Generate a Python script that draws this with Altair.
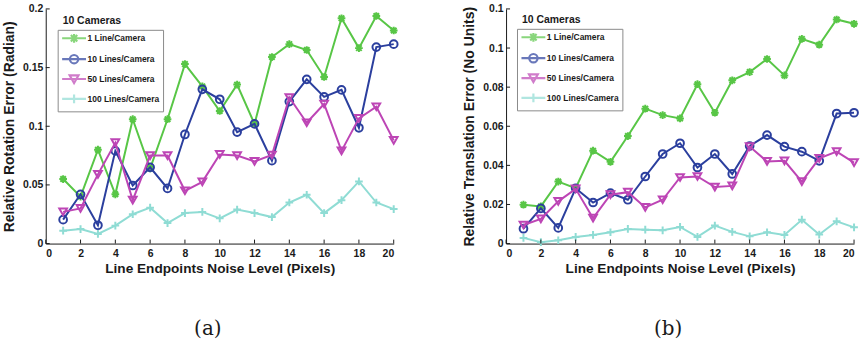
import altair as alt
import pandas as pd

noise = list(range(1, 21))
series = ["1 Line/Camera", "10 Lines/Camera", "50 Lines/Camera", "100 Lines/Camera"]
colors = ["#58c646", "#2b3f9e", "#bd45b5", "#8fdcd4"]

rot_1 = [0.055, 0.040, 0.080, 0.042, 0.106, 0.064, 0.106, 0.153, 0.134, 0.113,
         0.1355, 0.102, 0.159, 0.170, 0.165, 0.142, 0.192, 0.1666, 0.194, 0.1816]
rot_10 = [0.0204, 0.042, 0.0156, 0.079, 0.0495, 0.065, 0.047, 0.093, 0.1315, 0.123,
          0.095, 0.102, 0.0707, 0.121, 0.140, 0.125, 0.131, 0.0987, 0.1675, 0.170]
rot_50 = [0.027, 0.030, 0.059, 0.086, 0.037, 0.075, 0.075, 0.045, 0.0526, 0.076,
          0.075, 0.070, 0.0755, 0.1245, 0.103, 0.119, 0.079, 0.1067, 0.1166, 0.088]
rot_100 = [0.011, 0.0124, 0.0082, 0.0153, 0.025, 0.0306, 0.0175, 0.026, 0.027, 0.0215,
           0.029, 0.026, 0.0226, 0.035, 0.0416, 0.026, 0.037, 0.053, 0.035, 0.0294]

tra_1 = [0.0199, 0.019, 0.0317, 0.0283, 0.0475, 0.0418, 0.055, 0.069, 0.0657, 0.064,
         0.0815, 0.0669, 0.0835, 0.0877, 0.0944, 0.086, 0.1047, 0.1017, 0.1146, 0.1124]
tra_10 = [0.0076, 0.018, 0.008, 0.0283, 0.021, 0.0258, 0.0224, 0.0343, 0.0458, 0.0513,
          0.0389, 0.0458, 0.0356, 0.0499, 0.0555, 0.0496, 0.047, 0.0423, 0.0665, 0.0669]
tra_50 = [0.0095, 0.0126, 0.0216, 0.028, 0.013, 0.025, 0.0263, 0.0185, 0.0224, 0.0338,
          0.0343, 0.0289, 0.0295, 0.0496, 0.042, 0.0423, 0.0317, 0.0436, 0.047, 0.0414]
tra_100 = [0.0029, 0.0007, 0.0017, 0.0034, 0.0044, 0.0058, 0.0075, 0.0071, 0.0068, 0.0085,
           0.0034, 0.0092, 0.006, 0.0037, 0.0058, 0.0044, 0.0122, 0.0046, 0.0114, 0.0083]

x_ticks = list(range(0, 21, 2))
rot_ticks = [0, 0.05, 0.1, 0.15, 0.2]
tra_ticks = [0, 0.02, 0.04, 0.06, 0.08, 0.1, 0.12]

ASTER = "M-1,0H1M0,-1V1M-0.72,-0.72L0.72,0.72M-0.72,0.72L0.72,-0.72"
PLUS = "M-1,0H1M0,-1V1"
point_shapes = [ASTER, "circle", "triangle-down", PLUS]
legend_shapes = [
    "M-3,0H3M-1.1,0H1.1M0,-1.1V1.1M-0.8,-0.8L0.8,0.8M-0.8,0.8L0.8,-0.8",
    "M-3,0H3M-1.05,0A1.05,1.05 0 1 1 1.05,0A1.05,1.05 0 1 1 -1.05,0",
    "M-3,0H3M-1.1,-0.9L1.1,-0.9L0,1Z",
    "M-3,0H3M-1.1,0H1.1M0,-1.1V1.1",
]

W, H = 350, 236
FONT = "Liberation Sans"
INK = "#1a1a1a"


def long_df(vals):
    rows = []
    for s, v in zip(series, vals):
        for n, e in zip(noise, v):
            rows.append({"noise": n, "err": e, "series": s})
    return pd.DataFrame(rows)


def panel(vals, ymax, yticks, ytitle, caption, legx, legy):
    df = long_df(vals)
    xenc = alt.X("noise:Q", scale=alt.Scale(domain=[0, 20], nice=False, zero=False),
                 axis=alt.Axis(values=x_ticks, title="Line Endpoints Noise Level (Pixels)",
                               grid=False, ticks=False, tickSize=0, labelPadding=5,
                               titlePadding=3, labelFontSize=10.5, titleFontSize=13.7))
    yenc = alt.Y("err:Q", scale=alt.Scale(domain=[0, ymax], nice=False),
                 axis=alt.Axis(values=yticks, title=ytitle, grid=False, ticks=False,
                               tickSize=0, format="~g", labelPadding=3, titlePadding=6,
                               labelFontSize=10.5, titleFontSize=14))
    layers = []
    for s, c, shp in zip(series, colors, point_shapes):
        sub = alt.Chart(df).transform_filter(alt.datum.series == s)
        layers.append(sub.mark_line(color=c, strokeWidth=2).encode(x=xenc, y=yenc))
        layers.append(sub.mark_point(shape=shp, color=c, filled=False, size=60,
                                     strokeWidth=2, opacity=1).encode(x=xenc, y=yenc))
    leg = alt.Legend(orient="none", legendX=legx, legendY=legy, title=None,
                     labelFont=FONT, labelFontSize=8.5, labelFontWeight="bold",
                     labelColor=INK, strokeColor="#8a8a8a", fillColor="white",
                     padding=3, symbolSize=64, symbolStrokeWidth=2.2, rowPadding=2,
                     symbolOffset=8, labelOffset=8)
    layers.append(
        alt.Chart(df).transform_filter("false")
        .mark_point(filled=False, strokeWidth=2, size=64)
        .encode(color=alt.Color("series:N", scale=alt.Scale(domain=series, range=colors), legend=leg),
                shape=alt.Shape("series:N", scale=alt.Scale(domain=series, range=legend_shapes), legend=leg))
    )
    xt = pd.DataFrame({"noise": x_ticks})
    layers.append(alt.Chart(xt).mark_rule(color=INK, strokeWidth=1)
                  .encode(x=xenc, y=alt.value(H), y2=alt.value(H - 4)))
    yt = pd.DataFrame({"err": yticks})
    layers.append(alt.Chart(yt).mark_rule(color=INK, strokeWidth=1)
                  .encode(y=yenc, x=alt.value(0), x2=alt.value(4)))
    layers.append(alt.Chart(pd.DataFrame({"t": ["10 Cameras"]}))
                  .mark_text(align="left", baseline="middle", font=FONT, fontSize=10.5,
                             fontWeight="bold", color=INK)
                  .encode(text="t:N", x=alt.value(legx + 5), y=alt.value(legy - 9)))
    return alt.layer(*layers).properties(
        width=W, height=H,
        title=alt.TitleParams(caption, orient="bottom", font="DejaVu Serif", fontSize=20,
                              fontWeight="normal", color=INK, offset=60, anchor="middle",
                              baseline="alphabetic", dx=-12),
    )


left = panel([rot_1, rot_10, rot_50, rot_100], 0.2, rot_ticks,
             "Relative Rotation Error (Radian)", "(a)", 12, 21)
right = panel([tra_1, tra_10, tra_50, tra_100], 0.12, tra_ticks,
              "Relative Translation Error (No Units)", "(b)", 11, 20)

chart = (
    alt.hconcat(left, right, spacing=61)
    .resolve_scale(color="independent", shape="independent")
    .resolve_legend(color="independent", shape="independent")
    .properties(padding={"left": 2, "top": 3, "right": 0, "bottom": 0})
    .configure_view(stroke=None)
    .configure_axis(labelFont=FONT, titleFont=FONT, labelFontWeight="bold",
                    titleFontWeight="bold", labelColor=INK, titleColor=INK,
                    domainColor=INK, domainWidth=1)
)

chart.save("out.html", embed_options={"renderer": "svg", "actions": False})
